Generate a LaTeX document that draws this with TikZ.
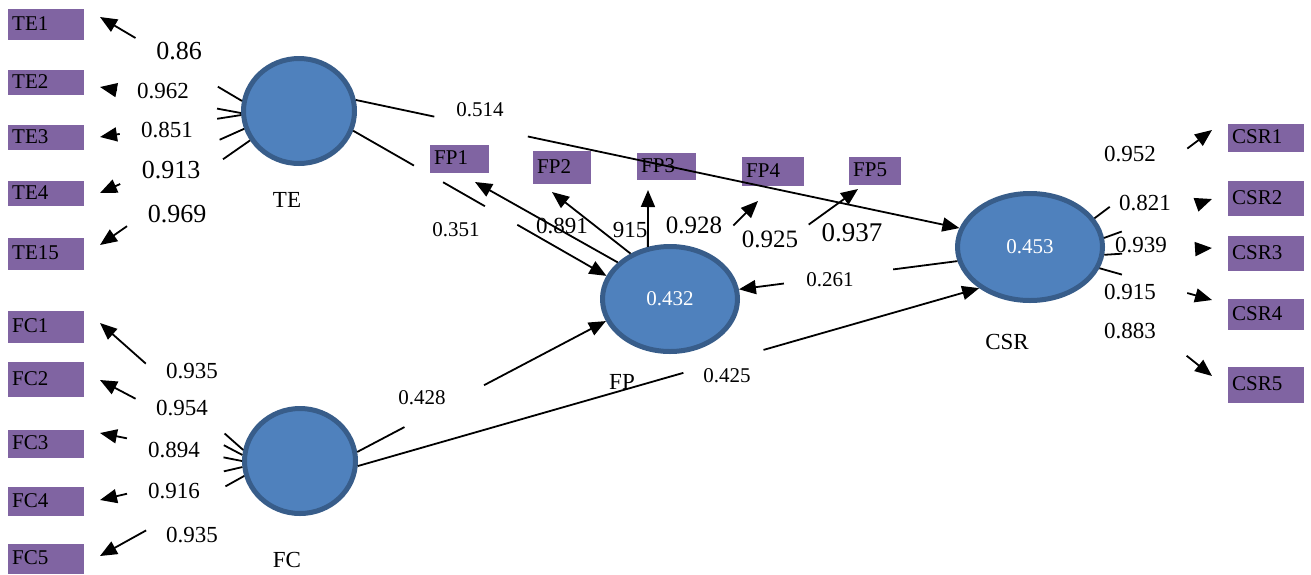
\documentclass[tikz,border=0pt]{standalone}
\usepackage{fontspec}
\setmainfont{Liberation Serif}
\usetikzlibrary{arrows.meta,calc,shapes.geometric}
\definecolor{boxpurple}{HTML}{8064A2}
\definecolor{latfill}{HTML}{4F81BD}
\definecolor{latdraw}{HTML}{385D8A}

\begin{document}
\begin{tikzpicture}[x=1pt, y=-1pt,
    box/.style = {fill=boxpurple, anchor=north west, inner xsep=4pt, inner ysep=0pt, text width=68pt, align=left, text height=15pt, text depth=4pt, font=\fontsize{21}{24}\selectfont},
    lat/.style = {ellipse, draw=latdraw, fill=latfill, line width=5pt, inner sep=0pt, text=white, font=\fontsize{21}{24}\selectfont},
    lbl/.style = {inner sep=0pt, font=\fontsize{23}{26}\selectfont},
    small/.style = {font=\fontsize{21}{24}\selectfont},
    big/.style = {font=\fontsize{26}{30}\selectfont},
    arr/.style = {line width=1.8pt, -{Triangle[length=17pt,width=14pt]}},
    broken/.style 2 args = {to path={(\tikztostart) -- ($(\tikztostart)!#1!(\tikztotarget)$) ($(\tikztostart)!#2!(\tikztotarget)$) -- (\tikztotarget)}},
    broken2/.style n args = {4}{to path={(\tikztostart) -- ($(\tikztostart)!#1!(\tikztotarget)$) ($(\tikztostart)!#2!(\tikztotarget)$) -- ($(\tikztostart)!#3!(\tikztotarget)$) ($(\tikztostart)!#4!(\tikztotarget)$) -- (\tikztotarget)}}]
    \useasboundingbox (0,0) rectangle (1311,574);

    % indicators
    \node[box, minimum height=31pt] (TE1) at (8,9) {TE1};
    \node[box, minimum height=25pt] (TE2) at (8,70) {TE2};
    \node[box, minimum height=25pt] (TE3) at (8,125) {TE3};
    \node[box, minimum height=25pt] (TE4) at (8,181) {TE4};
    \node[box, minimum height=32pt] (TE15) at (8,238) {TE15};
    \node[box, minimum height=32pt] (FC1) at (8,311) {FC1};
    \node[box, minimum height=35pt] (FC2) at (8,362) {FC2};
    \node[box, minimum height=28pt] (FC3) at (8,430) {FC3};
    \node[box, minimum height=29pt] (FC4) at (8,487) {FC4};
    \node[box, minimum height=30pt] (FC5) at (8,544) {FC5};
    \node[box, text width=51pt, minimum height=28pt] (FP1) at (430,145) {FP1};
    \node[box, text width=50pt, minimum height=33pt] (FP2) at (533,151) {FP2};
    \node[box, text width=51pt, minimum height=27pt] (FP3) at (637,153) {FP3};
    \node[box, text width=54pt, minimum height=29pt] (FP4) at (742,157) {FP4};
    \node[box, text width=44pt, minimum height=28pt] (FP5) at (849,157) {FP5};
    \node[box, minimum height=28pt] (CSR1) at (1228,124) {CSR1};
    \node[box, minimum height=35pt] (CSR2) at (1228,181) {CSR2};
    \node[box, minimum height=35pt] (CSR3) at (1228,236) {CSR3};
    \node[box, minimum height=31pt] (CSR4) at (1228,299) {CSR4};
    \node[box, minimum height=36pt] (CSR5) at (1228,367) {CSR5};

    % latent variables
    \node[lat, minimum width=111pt, minimum height=105pt] (TE) at (299,111) {};
    \node[lat, minimum width=111pt, minimum height=105pt] (FC) at (300,461) {};
    \node[lat, minimum width=135pt, minimum height=105pt] (FP) at (670,299) {0.432};
    \node[lat, minimum width=145pt, minimum height=107pt] (CSR) at (1030,247) {0.453};
    \node[lbl] (TEname) at (287,200) {TE};
    \node[lbl] (FCname) at (287,560) {FC};
    \node[lbl] (FPname) at (622,382) {FP};
    \node[lbl] (CSRname) at (1007,342) {CSR};

    % arrow tips
    \coordinate (te1) at (100,17);
    \coordinate (te2) at (100,87);
    \coordinate (te3) at (100,137);
    \coordinate (te4) at (100,193);
    \coordinate (te15) at (100,245);
    \coordinate (fc1) at (100,323);
    \coordinate (fc2) at (100,380);
    \coordinate (fc3) at (100,433);
    \coordinate (fc4) at (100,500);
    \coordinate (fc5) at (100,556);
    \coordinate (fp1) at (475,182);
    \coordinate (fp2) at (552,192);
    \coordinate (fp3) at (648,190);
    \coordinate (fp4) at (758,201);
    \coordinate (fp5) at (858,189);
    \coordinate (csr1) at (1212,130);
    \coordinate (csr2) at (1212,199);
    \coordinate (csr3) at (1212,248);
    \coordinate (csr4) at (1212,300);
    \coordinate (csr5) at (1212,376);

    % loadings
    \draw[arr] (TE.170) to[broken={.17}{.75}] (te1);
    \draw[arr] (TE.182) to[broken={.17}{.88}] (te2);
    \draw[arr] (TE.184) to[broken={.17}{.86}] (te3);
    \draw[arr] (TE.198) to[broken={.17}{.86}] (te4);
    \draw[arr] (TE.211) to[broken={.18}{.82}] (te15);
    \draw[arr] (FC.169) to[broken={.13}{.68}] (fc1);
    \draw[arr] (FC.174) to[broken={.13}{.75}] (fc2);
    \draw[arr] (FC.180) to[broken={.13}{.81}] (fc3);
    \draw[arr] (FC.186) to[broken={.13}{.81}] (fc4);
    \draw[arr] (FC.195) to[broken={.13}{.68}] (fc5);
    \draw[arr] (FP.145) -- (fp1);
    \draw[arr] (FP.131) -- (fp2);
    \draw[arr] (FP.113) -- (fp3);
    \draw[arr] (FP.52) to[broken={0}{.52}] (fp4);
    \draw[arr] (FP.18) to[broken={0}{.6}] (fp5);
    \draw[arr] (CSR.24) to[broken={.13}{.79}] (csr1);
    \draw[arr] (CSR.7) to[broken={.165}{.92}] (csr2);
    \draw[arr] (CSR.-6) to[broken={.165}{.88}] (csr3);
    \draw[arr] (CSR.-17) to[broken={.2}{.78}] (csr4);
    \draw[arr] (CSR.-28) to[broken={0}{.79}] (csr5);

    % paths
    \draw[arr] (TE.11) to[broken={.13}{.285}] (CSR.165);
    \draw[arr] (TE.-20) to[broken2={.24}{.355}{.52}{.648}] (FP.160);
    \draw[arr] (FC.9) to[broken={.19}{.51}] (FP.199);
    \draw[arr] (FC.-5) to[broken={.524}{.653}] (CSR.219);
    \draw[arr] (CSR.191) to[broken={.294}{.794}] (FP.8);

    % values
    \node[lbl, big] (v1) at (179,51) {0.86};
    \node[lbl] (v2) at (163,91) {0.962};
    \node[lbl] (v3) at (167,130) {0.851};
    \node[lbl, big] (v4) at (171,170) {0.913};
    \node[lbl, big] (v5) at (177,214) {0.969};
    \node[lbl] (v6) at (192,371) {0.935};
    \node[lbl] (v7) at (182,408) {0.954};
    \node[lbl] (v8) at (174,450) {0.894};
    \node[lbl] (v9) at (174,491) {0.916};
    \node[lbl] (v10) at (192,535) {0.935};
    \node[lbl, small] (v11) at (480,110) {0.514};
    \node[lbl, small] (v12) at (456,230) {0.351};
    \node[lbl, small] (v13) at (422,398) {0.428};
    \node[lbl, small] (v14) at (727,376) {0.425};
    \node[lbl, small] (v15) at (830,280) {0.261};
    \node[lbl] (v16) at (562,226) {0.891};
    \node[lbl] (v17) at (630,230) {915};
    \node[lbl, font=\fontsize{25}{28}\selectfont] (v18) at (694,225) {0.928};
    \node[lbl, font=\fontsize{25}{28}\selectfont] (v19) at (770,239) {0.925};
    \node[lbl, font=\fontsize{27}{30}\selectfont] (v20) at (852,233) {0.937};
    \node[lbl] (v21) at (1130,154) {0.952};
    \node[lbl] (v22) at (1145,203) {0.821};
    \node[lbl] (v23) at (1141,245) {0.939};
    \node[lbl] (v24) at (1130,292) {0.915};
    \node[lbl] (v25) at (1130,331) {0.883};
\end{tikzpicture}
\end{document}
